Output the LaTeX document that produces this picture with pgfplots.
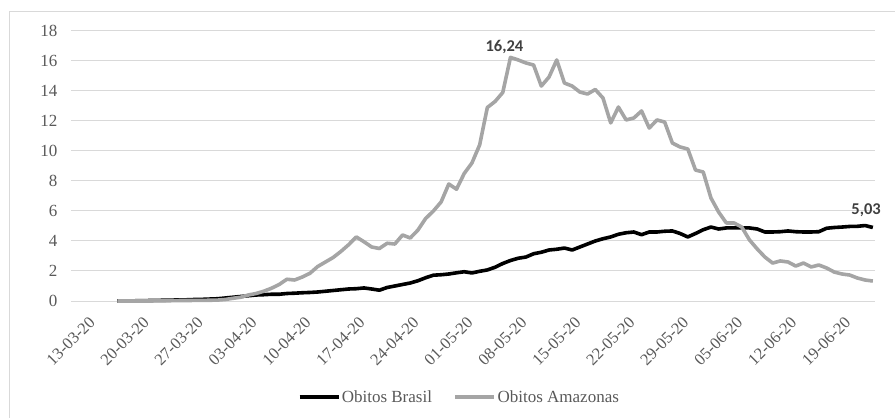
\documentclass[border=0pt]{standalone}
\usepackage{pgfplots}
\pgfplotsset{compat=1.18}
\usepackage{pgfplotstable}
\usepackage{fontspec}
\setmainfont{Liberation Serif}
\newfontfamily\carlito{Carlito}
\definecolor{gridc}{HTML}{D9D9D9}
\definecolor{txt}{HTML}{595959}
\definecolor{lab}{HTML}{404040}
\definecolor{amz}{HTML}{A5A5A5}

\pgfplotstableread{
d v
6 0
7 0
8 0
9 0
10 0.01
11 0.01
12 0.02
13 0.02
14 0.03
15 0.03
16 0.04
17 0.04
18 0.05
19 0.06
20 0.1
21 0.18
22 0.25
23 0.4
24 0.5
25 0.65
26 0.85
27 1.1
28 1.45
29 1.4
30 1.6
31 1.85
32 2.3
33 2.6
34 2.9
35 3.3
36 3.75
37 4.27
38 3.95
39 3.6
40 3.5
41 3.85
42 3.8
43 4.4
44 4.2
45 4.73
46 5.5
47 6.0
48 6.6
49 7.8
50 7.45
51 8.5
52 9.2
53 10.4
54 12.9
55 13.3
56 13.9
57 16.24
58 16.07
59 15.87
60 15.73
61 14.33
62 14.93
63 16.07
64 14.53
65 14.33
66 13.93
67 13.8
68 14.1
69 13.53
70 11.87
71 12.93
72 12.07
73 12.2
74 12.67
75 11.53
76 12.07
77 11.93
78 10.53
79 10.27
80 10.13
81 8.73
82 8.6
83 6.87
84 5.93
85 5.2
86 5.2
87 4.93
88 4.07
89 3.47
90 2.93
91 2.53
92 2.67
93 2.6
94 2.33
95 2.53
96 2.27
97 2.4
98 2.2
99 1.93
100 1.8
101 1.73
102 1.53
103 1.4
104 1.33
}\amazonas

\pgfplotstableread{
d v
6 0
7 0.01
8 0.01
9 0.02
10 0.03
11 0.04
12 0.05
13 0.06
14 0.07
15 0.08
16 0.1
17 0.11
18 0.13
19 0.15
20 0.2
21 0.25
22 0.3
23 0.35
24 0.4
25 0.42
26 0.45
27 0.45
28 0.5
29 0.52
30 0.55
31 0.57
32 0.6
33 0.65
34 0.7
35 0.75
36 0.8
37 0.82
38 0.87
39 0.8
40 0.72
41 0.9
42 1.0
43 1.1
44 1.2
45 1.35
46 1.55
47 1.72
48 1.75
49 1.8
50 1.88
51 1.95
52 1.87
53 1.98
54 2.07
55 2.25
56 2.5
57 2.7
58 2.85
59 2.93
60 3.15
61 3.25
62 3.4
63 3.45
64 3.53
65 3.4
66 3.6
67 3.8
68 4.0
69 4.15
70 4.27
71 4.45
72 4.55
73 4.6
74 4.42
75 4.6
76 4.6
77 4.65
78 4.67
79 4.5
80 4.27
81 4.5
82 4.75
83 4.93
84 4.8
85 4.87
86 4.87
87 4.88
88 4.87
89 4.8
90 4.6
91 4.6
92 4.62
93 4.67
94 4.62
95 4.6
96 4.6
97 4.62
98 4.85
99 4.9
100 4.93
101 4.97
102 4.98
103 5.03
104 4.9
}\brasil

\begin{document}
\begin{tikzpicture}
\path[use as bounding box] (0,0) rectangle (895bp,418bp);
\draw[gridc, line width=1bp] (9bp,0) -- (9bp,406bp) -- (895bp,406bp);
\begin{axis}[
  at={(71bp,117bp)}, anchor=south west,
  x=7.71bp, y=15bp,
  xmin=0, xmax=104.3, ymin=0, ymax=18,
  axis line style={draw=none},
  tick style={draw=none},
  ytick={0,2,...,18},
  ymajorgrids, grid style={gridc, line width=1bp},
  xtick={0,7,...,98},
  xticklabels={13-03-20,20-03-20,27-03-20,03-04-20,10-04-20,17-04-20,24-04-20,01-05-20,08-05-20,15-05-20,22-05-20,29-05-20,05-06-20,12-06-20,19-06-20},
  /pgf/number format/assume math mode=true,
  ticklabel style={text=txt},
  yticklabel style={anchor=east, xshift=-10bp, font=\fontsize{17bp}{19bp}\selectfont},
  xticklabel style={rotate=45, anchor=east, xshift=3bp, yshift=-28bp, inner sep=1bp, font=\fontsize{16.5bp}{19bp}\selectfont},
  legend columns=2,
  legend style={draw=none, fill=none, at={(0.4826,-0.3556)}, anchor=center,
    font=\fontsize{17bp}{20bp}\selectfont, text=txt,
    nodes={inner sep=1.5bp},
    /tikz/every even column/.append style={column sep=20bp}},
  legend image code/.code={\draw[#1] (0bp,0bp) -- (39bp,0bp);},
  clip=false,
]
\addplot[black, line width=3.6bp, line join=round] table[x=d, y=v] {\brasil};
\addlegendentry{Obitos Brasil}
\addplot[amz, line width=3.6bp, line join=round] table[x=d, y=v] {\amazonas};
\addlegendentry{Obitos Amazonas}
\node[anchor=south, text=lab, font=\carlito\bfseries\fontsize{16.5bp}{19bp}\selectfont, xshift=-6bp, yshift=0bp] at (axis cs:57,16.24) {16,24};
\node[anchor=south, text=lab, font=\carlito\bfseries\fontsize{16.5bp}{19bp}\selectfont, xshift=1bp, yshift=5bp] at (axis cs:103,5.03) {5,03};
\end{axis}
\end{tikzpicture}
\end{document}
